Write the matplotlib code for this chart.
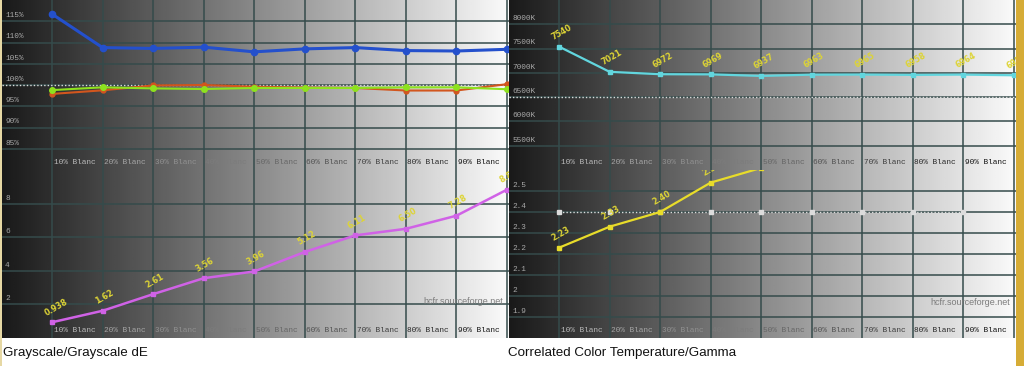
import numpy as np
import matplotlib.pyplot as plt
from matplotlib.transforms import blended_transform_factory

# measurement steps, 10% .. 100% Blanc
steps = [1, 2, 3, 4, 5, 6, 7, 8, 9, 10]
step_labels = ["10% Blanc", "20% Blanc", "30% Blanc", "40% Blanc", "50% Blanc",
               "60% Blanc", "70% Blanc", "80% Blanc", "90% Blanc"]

# RGB levels (%)
red_level = [97.9, 98.75, 99.9, 100.0, 99.6, 99.4, 99.3, 98.7, 98.7, 100.2]
green_level = [98.8, 99.45, 99.2, 99.05, 99.3, 99.3, 99.3, 99.45, 99.45, 99.0]
blue_level = [116.7, 108.8, 108.6, 108.9, 107.8, 108.5, 108.8, 108.1, 108.0, 108.4]
level_ticks = [85, 90, 95, 100, 105, 110, 115]

# grayscale dE
delta_e = [0.938, 1.62, 2.61, 3.56, 3.96, 5.12, 6.11, 6.50, 7.28, 8.83]
de_labels = ["0.938", "1.62", "2.61", "3.56", "3.96", "5.12", "6.11", "6.50", "7.28", "8.83"]
de_ticks = [2, 4, 6, 8]

# correlated color temperature (K)
cct = [7540, 7021, 6972, 6969, 6937, 6963, 6965, 6958, 6964, 6950]
cct_ticks = [5500, 6000, 6500, 7000, 7500, 8000]

# gamma (only the visible part of the curve)
gamma_steps = [1, 2, 3, 4, 5]
gamma = [2.23, 2.33, 2.40, 2.54, 2.61]
gamma_ref_steps = [1, 2, 3, 4, 5, 6, 7, 8, 9]
gamma_ref = 2.4
gamma_ticks = [1.9, 2.0, 2.1, 2.2, 2.3, 2.4, 2.5]

W, H = 1024, 366
G0, G1 = 0.10, 0.98
XLIM = (0.01, 10.04)
LABEL_YELLOW = "#ddd436"
MONO = "Liberation Mono"


def bg_at(frac):
    return G0 + (G1 - G0) * frac


def inv_color(frac):
    g = bg_at(frac)
    v = min(1.0, max(0.0, 0.95 - 0.95 * g))
    return (v, v, v)


def make_panel(fig, x0, y0, w, h, ylim, yticks, ytick_text):
    ax = fig.add_axes([x0 / W, 1 - (y0 + h) / H, w / W, h / H])
    grad = np.linspace(G0, G1, 256)[None, :]
    ax.imshow(grad, cmap="gray", vmin=0, vmax=1, extent=(0, 1, 0, 1),
              transform=ax.transAxes, aspect="auto", zorder=0)
    ax.set_xlim(*XLIM)
    ax.set_ylim(*ylim)
    ax.set_xticks(steps)
    ax.set_yticks(yticks)
    ax.set_axisbelow(True)
    ax.grid(True, color="#354b4b", lw=1.1)
    ax.tick_params(length=0, labelleft=False, labelbottom=False)
    for s in ax.spines.values():
        s.set_visible(False)

    # step labels, left aligned after each step
    tr = blended_transform_factory(ax.transData, ax.transAxes)
    for st, lab in zip(steps, step_labels):
        fx = (st + 0.45 - XLIM[0]) / (XLIM[1] - XLIM[0])
        ax.text(st + 0.03, 0.042, lab, transform=tr, fontsize=5.6, family=MONO,
                color=inv_color(fx), va="center", ha="left")

    # y tick labels inside, just above their grid line
    for v, t in zip(yticks, ytick_text):
        ax.annotate(t, xy=(0.006, v), xycoords=("axes fraction", "data"),
                    xytext=(0, 1.5), textcoords="offset points",
                    fontsize=5.6, family=MONO, color="#a8a8a8",
                    va="bottom", ha="left")
    return ax


def value_labels(ax, xs, ys, texts, dx=-3.5, dy=3.5):
    for x, y, t in zip(xs, ys, texts):
        a = ax.annotate(t, xy=(x, y), xytext=(dx, dy), textcoords="offset points",
                        fontsize=5.8, fontweight="bold", color=LABEL_YELLOW,
                        rotation=30, rotation_mode="anchor", ha="left", va="bottom",
                        zorder=6)
        a.set_clip_on(True)
        a.set_clip_path(ax.patch)


fig = plt.figure(figsize=(W / 100, H / 100), dpi=100)
fig.patch.set_facecolor("white")

# ---- grayscale RGB levels
ax1 = make_panel(fig, 2, 0, 507, 170, (80, 120), level_ticks,
                 [f"{v}%" for v in level_ticks])
ax1.axhline(100, color="#dcdcdc", lw=1.0, ls=(0, (1, 1.5)), zorder=2)
ax1.plot(steps, red_level, color="#d2561e", lw=1.5, marker="o", ms=3.5, zorder=3)
ax1.plot(steps, green_level, color="#8ee21e", lw=1.5, marker="o", ms=4, zorder=4)
ax1.plot(steps, blue_level, color="#2450cc", lw=2.2, marker="o", ms=4.5, zorder=5)

# ---- grayscale dE
ax2 = make_panel(fig, 2, 170, 507, 168, (0, 10), de_ticks,
                 [str(v) for v in de_ticks])
ax2.plot(steps, delta_e, color="#d062e6", lw=1.8, marker="s", ms=3.5, zorder=4)
value_labels(ax2, steps, delta_e, de_labels)
ax2.text(0.988, 0.22, "hcfr.sourceforge.net", transform=ax2.transAxes,
         fontsize=6.5, color="#7c7c7c", ha="right", va="center", family="Liberation Sans")

# ---- color temperature
ax3 = make_panel(fig, 509, 0, 507, 170, (5000, 8500), cct_ticks,
                 [f"{v}K" for v in cct_ticks])
ax3.axhline(6500, color="#dcdcdc", lw=1.0, ls=(0, (1, 1.5)), zorder=2)
ax3.plot(steps, cct, color="#62d6de", lw=1.6, marker="s", ms=3.5, zorder=4)
value_labels(ax3, steps, cct, [str(v) for v in cct])

# ---- gamma
ax4 = make_panel(fig, 509, 170, 507, 168, (1.8, 2.6), gamma_ticks,
                 ["1.9", "2", "2.1", "2.2", "2.3", "2.4", "2.5"])
ax4.plot(gamma_ref_steps, [gamma_ref] * len(gamma_ref_steps), color="#dcdcdc",
         lw=1.0, ls=(0, (1, 1.5)), marker="s", ms=3, zorder=2)
ax4.plot(gamma_steps, gamma, color="#e8dc2a", lw=1.6, marker="s", ms=3.5, zorder=4)
value_labels(ax4, gamma_steps, gamma, [f"{v:.2f}" for v in gamma])
ax4.text(0.988, 0.21, "hcfr.sourceforge.net", transform=ax4.transAxes,
         fontsize=6.5, color="#7c7c7c", ha="right", va="center", family="Liberation Sans")

# captions
fig.text(3 / W, 1 - 353 / H, "Grayscale/Grayscale dE", fontsize=9.6,
         family="Liberation Sans", color="#111111", va="center", ha="left")
fig.text(508 / W, 1 - 353 / H, "Correlated Color Temperature/Gamma", fontsize=9.6,
         family="Liberation Sans", color="#111111", va="center", ha="left")

# frame strips
fig.add_artist(plt.Rectangle((1016 / W, 0), 8 / W, 1, transform=fig.transFigure,
                             color="#d6ac36", lw=0))
fig.add_artist(plt.Rectangle((0, 0), 2 / W, 1, transform=fig.transFigure,
                             color="#e6d8a4", lw=0))

fig.savefig("out.png", dpi=100)
